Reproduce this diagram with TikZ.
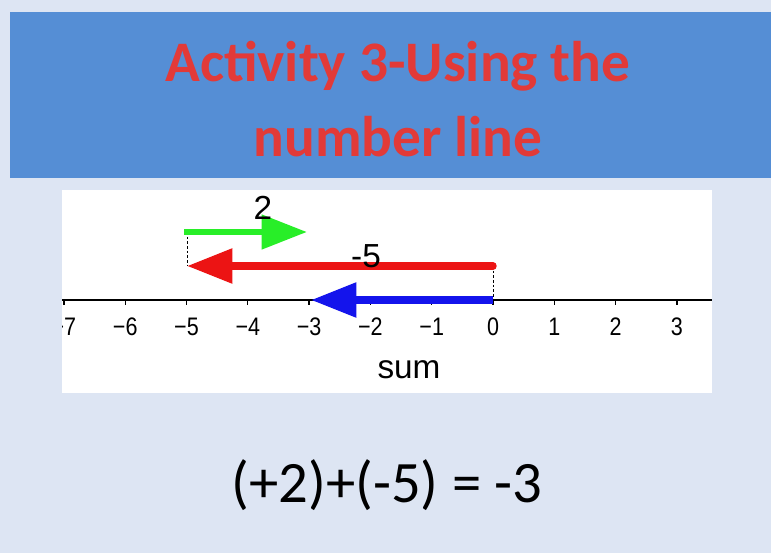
\documentclass[tikz,border=0pt]{standalone}
\usepackage{fontspec}
\setmainfont{Liberation Sans}
\newfontfamily\calfont{Carlito}
\usetikzlibrary{arrows.meta}
\definecolor{slidebg}{RGB}{221,229,243}
\definecolor{bandblue}{RGB}{85,142,213}
\definecolor{titlered}{RGB}{226,58,56}
\definecolor{vgreen}{RGB}{40,238,40}
\definecolor{vred}{RGB}{236,20,20}
\definecolor{vblue}{RGB}{20,20,236}

\tikzset{
    titletxt/.style={
        align=center,
        font=\calfont\bfseries\fontsize{43}{56}\selectfont,
        inner sep=0pt
    },
    vec/.style={
        draw=#1,
        line width=5pt,
        -{Triangle[length=34pt,width=25pt]}
    },
    guide/.style={
        draw=black,
        thin,
        dash pattern=on 2pt off 1.5pt
    },
    numlbl/.style={
        font=\fontsize{19}{22}\selectfont,
        xscale=0.85,
        inner sep=0pt
    },
    veclbl/.style={
        font=\fontsize{25}{28}\selectfont,
        inner sep=0pt
    }
}

\begin{document}
\begin{tikzpicture}[x=0.75pt,y=-0.75pt]
    \useasboundingbox[fill=slidebg] (0,0) rectangle (771,553);
    \fill[bandblue] (10,12) rectangle (771,178);
    % title
    \node[titletxt,text=titlered] (title) at (398,99) {Activity 3-Using the\\number line};

    % number line panel
    \fill[white] (62,190) rectangle (712,393);
    \coordinate (axl) at (62,300);
    \coordinate (axr) at (712,300);
    \draw[line width=1.5pt] (axl) -- (axr);
    \begin{scope}
        \clip (62,190) rectangle (712,393);
        \foreach \n in {-7,...,3}{
            \draw[line width=1pt] (493+61.3*\n,300) -- ++(0,5);
            \node[numlbl] (t\n) at (493+61.3*\n,327)
                {\ifnum\n<0 −\the\numexpr-\n\relax\else\n\fi};
        }
    \end{scope}

    \path
        coordinate (g0) at (184,232)
        coordinate (g1) at (307,232)
        coordinate (d0) at (187,232)
        coordinate (r0) at (493,266)
        coordinate (r1) at (187,266)
        coordinate (b0) at (493,300)
        coordinate (b1) at (311,300);

    \draw[guide] (d0) -- (r1);
    \draw[guide] (r0) -- (b0);

    \draw[vec=vgreen] (g0) -- (g1);
    \draw[vec=vred,line cap=round,line width=5.6pt] (r0) -- (r1);
    \draw[vec=vblue,line width=5.6pt] (b0) -- (b1);

    \node[veclbl] (two) at (263,208) {2};
    \node[veclbl] (five) at (366,256) {-5};
    \node[font=\fontsize{25}{28}\selectfont] (sum) at (409,370) {sum};

    % the sum
    \node[font=\calfont\fontsize{44}{52}\selectfont] (eqn) at (387,485) {(+2)+(-5) = -3};
\end{tikzpicture}
\end{document}
